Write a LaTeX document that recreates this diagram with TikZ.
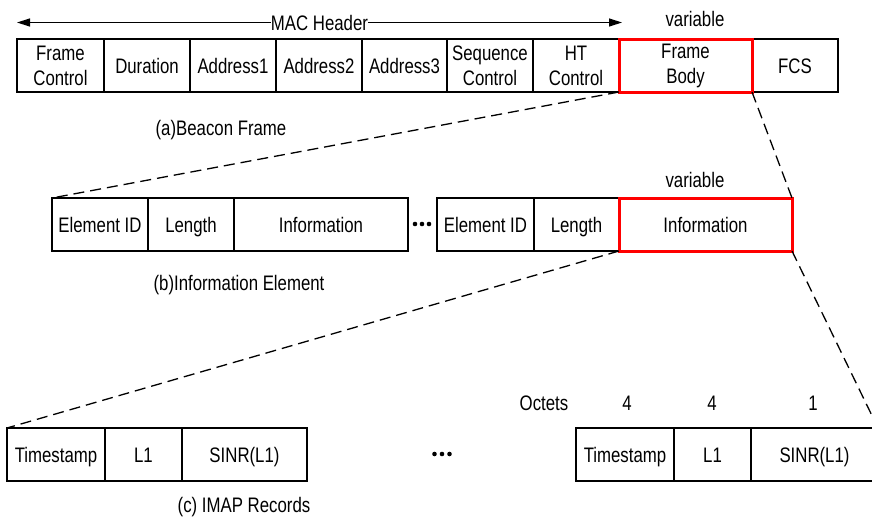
\documentclass[tikz,border=0pt]{standalone}
\usepackage{fontspec}
\setmainfont{Liberation Sans}[FakeStretch=0.8]
\usetikzlibrary{arrows.meta}

\tikzset{
  cell/.style={draw, line width=2.6pt, minimum height=53pt, inner sep=0pt,
               outer sep=0pt, anchor=north west},
  fld/.style={cell, text height=15pt, text depth=0pt},
  fldtwo/.style={cell, align=center},
  hot/.style={draw=red, line width=3pt},
  lbl/.style={inner sep=0pt, text height=15pt, text depth=0pt},
  zoomline/.style={line width=1.3pt, dash pattern=on 11pt off 6pt},
}

\begin{document}
\begin{tikzpicture}[x=1pt, y=-1pt, font=\fontsize{21}{25}\selectfont]
\path[use as bounding box, clip] (0,0) rectangle (872,522);

% ---- (a) Beacon frame ----
\node[fldtwo, minimum width=87pt] (fc)  at (17,39)  {Frame\\Control};
\node[fld,    minimum width=86pt] (dur) at (104,39) {Duration};
\node[fld,    minimum width=86pt] (ad1) at (190,39) {Address1};
\node[fld,    minimum width=86pt] (ad2) at (276,39) {Address2};
\node[fld,    minimum width=85pt] (ad3) at (362,39) {Address3};
\node[fldtwo, minimum width=86pt] (sc)  at (447,39) {Sequence\\Control};
\node[fldtwo, minimum width=86pt] (ht)  at (533,39) {HT\\Control};
\node[fld,    minimum width=86pt] (fcs) at (752,39) {FCS};
\node[fldtwo, hot, minimum width=133pt] (body) at (619,39) {Frame\\Body};

\coordinate (macL) at (17,22.5);
\coordinate (macR) at (622,22.5);
\draw[line width=1.3pt, {Triangle[length=13pt,width=8pt]}-{Triangle[length=13pt,width=8pt]}]
  (macL) -- node[fill=white, inner sep=0pt, text height=15pt, text depth=0pt] (mac) {MAC Header} (macR);
\node[lbl] (varA) at (695,19) {variable};
\node[lbl] (capA) at (221,128) {(a)Beacon Frame};

% ---- (b) Information elements ----
\node[fld, minimum width=96pt]  (eid1) at (52,198)  {Element ID};
\node[fld, minimum width=86pt]  (len1) at (148,198) {Length};
\node[fld, minimum width=174pt] (inf1) at (234,198) {Information};
\node[fld, minimum width=97pt]  (eid2) at (437,198) {Element ID};
\node[fld, minimum width=85pt]  (len2) at (534,198) {Length};
\node[fld, hot, minimum width=173pt] (inf2) at (619,198) {Information};
\node[lbl] (varB) at (695,180) {variable};
\node[lbl] (capB) at (239,283) {(b)Information Element};

\coordinate (dotsB) at (422,224);
\foreach \dx in {-7,0,7} \fill (dotsB) ++(\dx,0) circle (2.3pt);

% ---- (c) IMAP records ----
\node[fld, minimum width=98pt]  (ts1)  at (7,428)   {Timestamp};
\node[fld, minimum width=77pt]  (l1a)  at (105,428) {L1};
\node[fld, minimum width=125pt] (sn1)  at (182,428) {SINR(L1)};
\node[fld, minimum width=98pt]  (ts2)  at (576,428) {Timestamp};
\node[fld, minimum width=77pt]  (l1b)  at (674,428) {L1};
\node[fld, minimum width=127pt] (sn2)  at (751,428) {SINR(L1)};
\node[lbl] (capC) at (244,505) {(c) IMAP Records};

\coordinate (dotsC) at (442,454);
\foreach \dx in {-7.5,0,7.5} \fill (dotsC) ++(\dx,0) circle (2.3pt);

\node[lbl] (oct)  at (544,403) {Octets};
\node[lbl] (octa) at (627,403) {4};
\node[lbl] (octb) at (712,403) {4};
\node[lbl] (octc) at (813,403) {1};

% ---- zoom-in guide lines ----
\draw[zoomline] (body.south west) -- (eid1.north west);
\draw[zoomline] (body.south east) -- (inf2.north east);
\draw[zoomline] (inf2.south west) -- (ts1.north west);
\draw[zoomline] (inf2.south east) -- (sn2.north east);
\end{tikzpicture}
\end{document}
